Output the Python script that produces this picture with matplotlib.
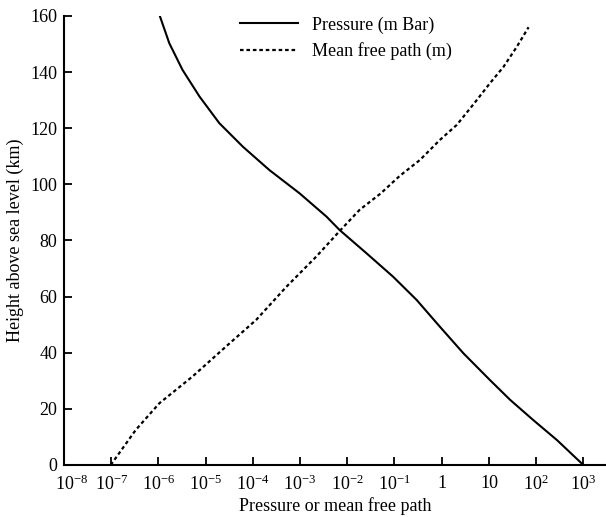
import numpy as np
import matplotlib.pyplot as plt
from matplotlib.transforms import ScaledTranslation

# values (height in km, log10 of x value)
pressure_height = [160, 150.3, 140.8, 131.3, 121.8, 113.4, 105.1, 96.8, 88.5, 83.7,
                   75.4, 67.1, 58.8, 49.3, 39.8, 30.3, 23.2, 16.0, 8.9, 0]
pressure_log = [-5.97, -5.77, -5.49, -5.13, -4.71, -4.21, -3.65, -3.01, -2.44, -2.16,
                -1.59, -1.03, -0.53, -0.04, 0.46, 1.02, 1.45, 1.94, 2.44, 3.0]

mfp_height = [0, 12.5, 22, 31.5, 42.2, 51.7, 63.5, 74.2, 83.4, 90.9, 96.8, 103, 108.7,
              115.8, 121.2, 128.9, 136, 141.9, 149, 156]
mfp_log = [-7.01, -6.48, -5.98, -5.28, -4.57, -3.93, -3.29, -2.66, -2.16, -1.74, -1.29,
           -0.89, -0.46, -0.04, 0.32, 0.69, 1.02, 1.31, 1.59, 1.84]

xtick_vals = [1e-8, 1e-7, 1e-6, 1e-5, 1e-4, 1e-3, 1e-2, 1e-1, 1, 10, 1e2, 1e3]
xtick_labels = [r'$10^{-8}$', r'$10^{-7}$', r'$10^{-6}$', r'$10^{-5}$', r'$10^{-4}$',
                r'$10^{-3}$', r'$10^{-2}$', r'$10^{-1}$', '1', '10', r'$10^{2}$', r'$10^{3}$']

plt.rcParams['font.family'] = ['Liberation Serif', 'DejaVu Serif']
plt.rcParams['mathtext.fontset'] = 'custom'
plt.rcParams['mathtext.rm'] = 'Liberation Serif'
plt.rcParams['mathtext.it'] = 'Liberation Serif:italic'

fig = plt.figure(figsize=(6.06, 5.17), dpi=100)
ax = fig.add_axes([0.1056, 0.1006, 0.8944, 0.8685])

ax.plot(10 ** np.array(pressure_log), pressure_height, color='black', lw=1.5,
        label='Pressure (m Bar)')
ax.plot(10 ** np.array(mfp_log), mfp_height, color='black', lw=1.6,
        linestyle=(0, (1.6, 1.3)), label='Mean free path (m)')

ax.set_xscale('log')
ax.set_xlim(1e-8, 10 ** 3.48)
ax.set_ylim(0, 160)
ax.set_xticks(xtick_vals)
ax.set_xticklabels(xtick_labels)
ax.minorticks_off()
ax.set_yticks(range(0, 161, 20))

for s in ['top', 'right']:
    ax.spines[s].set_visible(False)
for s in ['left', 'bottom']:
    ax.spines[s].set_linewidth(1.5)
ax.tick_params(direction='in', length=6, width=1.3, labelsize=13)
ax.tick_params(axis='x', pad=7)
ax.tick_params(axis='y', pad=5)

# nudge the first x label right so it clears the "0" of the y axis
first = ax.get_xticklabels()[0]
first.set_transform(first.get_transform() + ScaledTranslation(8 / 100, 0, fig.dpi_scale_trans))

ax.set_xlabel('Pressure or mean free path', fontsize=13, labelpad=2)
ax.set_ylabel('Height above sea level (km)', fontsize=13, labelpad=4)

ax.legend(loc='upper left', bbox_to_anchor=(0.295, 1.035), frameon=False, fontsize=13,
          handlelength=3.2, labelspacing=0.45)

fig.savefig('out.png', dpi=100)
